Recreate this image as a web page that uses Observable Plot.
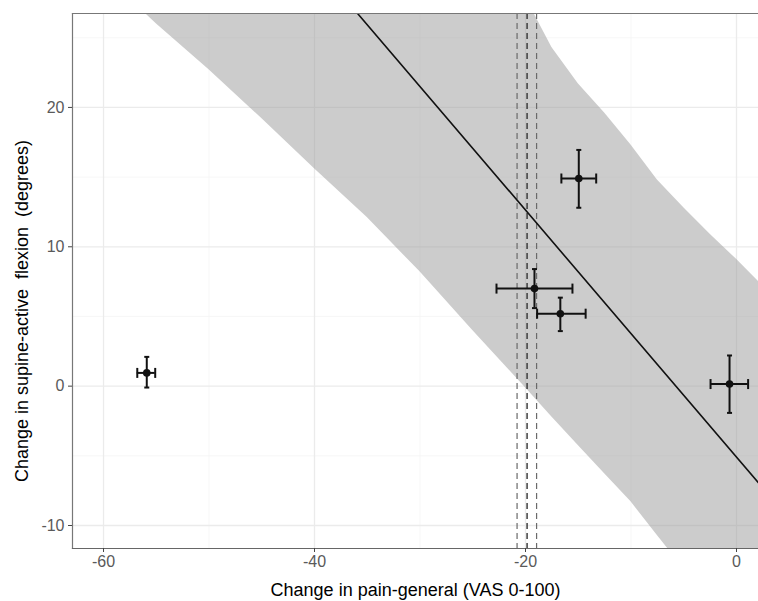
<!DOCTYPE html>
<html>
<head>
<meta charset="utf-8">
<script src="https://cdn.jsdelivr.net/npm/d3@7"></script>
<script src="https://cdn.jsdelivr.net/npm/@observablehq/plot@0.6"></script>
<style>
  html, body { margin: 0; padding: 0; background: #fff; }
</style>
</head>
<body>
<div id="chart"></div>
<script>
// Study points (x = change in pain, y = change in flexion) with error bar limits
const ptX = [-55.9, -19.15, -16.7, -14.95, -0.66];
const ptY = [0.95, 7.0, 5.2, 14.9, 0.15];
const xLo = [-56.8, -22.75, -18.9, -16.6, -2.46];
const xHi = [-55.1, -15.55, -14.3, -13.3, 1.1];
const yLo = [-0.1, 5.6, 3.95, 12.8, -1.92];
const yHi = [2.1, 8.4, 6.35, 16.95, 2.2];

// Fitted regression line (two ends)
const fitX = [-37, 3];
const fitY = [27.7, -7.75];

// Confidence band
const bandX  = [-62.9, -60, -55, -50, -45, -40, -35, -30, -25, -20, -17.5, -15, -12.5, -10, -7.5, -5, -2.5, 0, 2.5];
const bandLo = [31.7, 29.6, 26.0, 22.7, 19.2, 15.6, 12.1, 8.2, 4.0, -0.12, -2.22, -4.26, -6.28, -8.3, -10.72, -13.1, -15.5, -17.9, -20.3];
const bandHi = [90, 85, 78, 71, 64, 57, 50, 43, 36, 27.9, 24.3, 21.7, 19.6, 17.3, 14.8, 12.8, 10.9, 9.1, 7.2];

// Vertical dashed reference lines
const refX = [-20.8, -19.85, -18.95];
const refKind = ["outer", "mid", "outer"];

const xMajor = [-60, -40, -20, 0];
const xMinor = [-50, -30, -10];
const yMajor = [-10, 0, 10, 20];
const yMinor = [-5, 5, 15, 25];

const xTitle = "Change in pain-general (VAS 0-100)";
const yTitle = "Change in supine-active\u00a0 flexion\u00a0 (degrees)";

const points = ptX.map((x, i) => ({x, y: ptY[i], xlo: xLo[i], xhi: xHi[i], ylo: yLo[i], yhi: yHi[i]}));
const band = bandX.map((x, i) => ({x, lo: bandLo[i], hi: bandHi[i]}));
const fit = fitX.map((x, i) => ({x, y: fitY[i]}));
const refs = refX.map((x, i) => ({x, kind: refKind[i]}));

const vcap = { draw(ctx, size) { const r = Math.sqrt(size / Math.PI); ctx.moveTo(0, -r); ctx.lineTo(0, r); } };
const hcap = { draw(ctx, size) { const r = Math.sqrt(size / Math.PI); ctx.moveTo(-r, 0); ctx.lineTo(r, 0); } };

const fmt = d => String(d);

const chart = Plot.plot({
  width: 758,
  height: 601,
  marginLeft: 72,
  marginRight: 0,
  marginTop: 13,
  marginBottom: 53,
  style: { fontFamily: "Liberation Sans, Arial, sans-serif", fontSize: "16px", background: "#fff", overflow: "visible" },
  x: { domain: [-62.94, 2.085] },
  y: { domain: [-11.65, 26.74] },
  marks: [
    Plot.gridX(xMinor, { stroke: "#f3f3f3", strokeOpacity: 1, strokeWidth: 0.7 }),
    Plot.gridY(yMinor, { stroke: "#f3f3f3", strokeOpacity: 1, strokeWidth: 0.7 }),
    Plot.gridX(xMajor, { stroke: "#ebebeb", strokeOpacity: 1, strokeWidth: 1.3 }),
    Plot.gridY(yMajor, { stroke: "#ebebeb", strokeOpacity: 1, strokeWidth: 1.3 }),
    Plot.areaY(band, { x: "x", y1: "lo", y2: "hi", fill: "#999999", fillOpacity: 0.5, clip: true }),
    Plot.ruleX(refs.filter(d => d.kind === "outer"), { x: "x", stroke: "#6a6a6a", strokeWidth: 1.2, strokeDasharray: "6,4" }),
    Plot.ruleX(refs.filter(d => d.kind === "mid"), { x: "x", stroke: "#333333", strokeWidth: 1.4, strokeDasharray: "6,4" }),
    Plot.line(fit, { x: "x", y: "y", stroke: "#111", strokeWidth: 1.6, clip: true }),
    Plot.ruleY(points, { y: "y", x1: "xlo", x2: "xhi", stroke: "#111", strokeWidth: 2 }),
    Plot.ruleX(points, { x: "x", y1: "ylo", y2: "yhi", stroke: "#111", strokeWidth: 2 }),
    Plot.dot(points, { x: "xlo", y: "y", symbol: vcap, r: 5, stroke: "#111", strokeWidth: 2, fill: "none" }),
    Plot.dot(points, { x: "xhi", y: "y", symbol: vcap, r: 5, stroke: "#111", strokeWidth: 2, fill: "none" }),
    Plot.dot(points, { x: "x", y: "ylo", symbol: hcap, r: 2.5, stroke: "#111", strokeWidth: 2, fill: "none" }),
    Plot.dot(points, { x: "x", y: "yhi", symbol: hcap, r: 2.5, stroke: "#111", strokeWidth: 2, fill: "none" }),
    Plot.dot(points, { x: "x", y: "y", r: 3.8, fill: "#111", stroke: "none" }),
    Plot.frame({ anchor: "top", stroke: "#777", strokeWidth: 1.2 }),
    Plot.frame({ anchor: "left", stroke: "#777", strokeWidth: 1.2 }),
    Plot.frame({ anchor: "bottom", stroke: "#666", strokeWidth: 1.2 }),
    Plot.axisX({ ticks: xMajor, tickFormat: fmt, tickSize: 4, tickPadding: 3, stroke: "#444", fill: "#5a5a5a", fontSize: 16,
      label: null }),
    Plot.axisY({ ticks: yMajor, tickFormat: fmt, tickSize: 4, tickPadding: 4, stroke: "#444", fill: "#5a5a5a", fontSize: 16,
      label: null }),
    Plot.text([xTitle], { frameAnchor: "bottom", textAnchor: "middle", lineAnchor: "middle", dy: 42, fontSize: 18, fill: "#000" }),
    Plot.text([yTitle], { frameAnchor: "left", textAnchor: "middle", lineAnchor: "middle", rotate: -90, dx: -50, dy: 30, fontSize: 18, fill: "#000" })
  ]
});
document.getElementById("chart").appendChild(chart);
</script>
</body>
</html>
